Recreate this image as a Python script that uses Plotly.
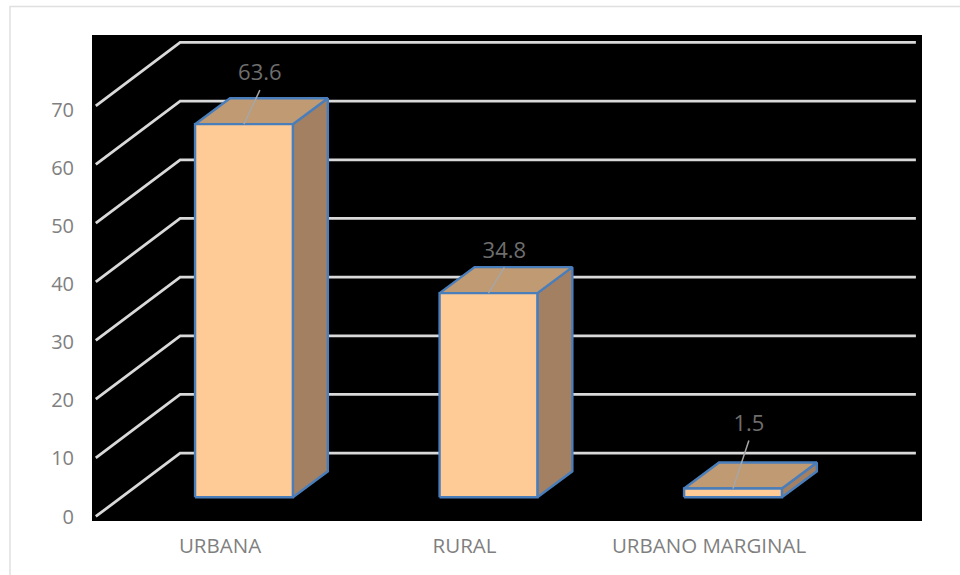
import plotly.graph_objects as go

categories = ["URBANA", "RURAL", "URBANO MARGINAL"]
values = [63.6, 34.8, 1.5]
label_texts = ["63.6", "34.8", "1.5"]
leader_rise = [5.8, 4.4, 8.2]
y_ticks = [0, 10, 20, 30, 40, 50, 60, 70]

WALL_DX, WALL_DY = 0.345, 10.8
BAR_SHIFT, BAR_HALF = 0.098, 0.2
BAR_DX, BAR_DY = 0.143, 4.43
FLOOR = 3.27
LEADER_DX = 0.065
GRID = "#d9d9d9"
EDGE = "#4a7ebb"
TEXT = "#7f7f7f"
CLEAR = "rgba(0,0,0,0)"
FONT = "Open Sans"

fig = go.Figure()
XL = -0.5235 + 0.0155
XR = 2.846
for t in y_ticks:
    fig.add_trace(go.Scatter(x=[XL, XL + WALL_DX, XR], y=[t, t + WALL_DY, t + WALL_DY],
                             mode="lines", line=dict(color=GRID, width=2.8),
                             hoverinfo="skip", showlegend=False))


def face(xs, ys, fill):
    fig.add_trace(go.Scatter(x=xs, y=ys, mode="lines", fill="toself", fillcolor=fill,
                             line=dict(color=EDGE, width=2.4), hoverinfo="skip", showlegend=False))


for i, v in enumerate(values):
    l, r = i + BAR_SHIFT - BAR_HALF, i + BAR_SHIFT + BAR_HALF
    b, t = FLOOR, FLOOR + v
    face([r, r + BAR_DX, r + BAR_DX, r, r], [b, b + BAR_DY, t + BAR_DY, t, b], "#a38061")
    face([l, r, r + BAR_DX, l + BAR_DX, l], [t, t, t + BAR_DY, t + BAR_DY, t], "#bf9a73")
    face([l, r, r, l, l], [b, b, t, t, b], "#fecb96")
    cx = i + BAR_SHIFT
    fig.add_trace(go.Scatter(x=[cx, cx + LEADER_DX], y=[t, t + leader_rise[i]], mode="lines",
                             line=dict(color="#a6a6a6", width=1.5), hoverinfo="skip", showlegend=False))
    fig.add_trace(go.Scatter(x=[cx + LEADER_DX], y=[t + leader_rise[i] + 2.6], mode="text",
                             text=[label_texts[i]], textposition="middle center",
                             textfont=dict(family=FONT, size=22, color="#6e6e6e"),
                             hoverinfo="skip", showlegend=False))

# Invisible trace that carries the tick-label axis (labels run at a slightly tighter pitch).
fig.add_trace(go.Scatter(x=[0] * len(y_ticks), y=y_ticks, yaxis="y2", mode="markers",
                         marker=dict(opacity=0, size=1), hoverinfo="skip", showlegend=False))

fig.update_layout(
    width=960, height=575, autosize=False,
    margin=dict(l=92, r=38, t=35, b=54),
    paper_bgcolor="white", plot_bgcolor="black", showlegend=False,
    font=dict(family=FONT, color=TEXT),
    xaxis=dict(range=[-0.5235, 2.871], tickvals=[0, 1, 2], ticktext=categories,
               showgrid=False, zeroline=False, ticks="outside", ticklen=6, tickcolor=CLEAR,
               showline=False, tickfont=dict(family=FONT, size=20.5, color=TEXT), automargin=False),
    yaxis=dict(range=[-0.77, 82.07], showticklabels=False, showgrid=False, zeroline=False,
               ticks="", showline=False, automargin=False),
    yaxis2=dict(range=[-0.775, 82.92], overlaying="y", side="left", tickvals=y_ticks,
                showgrid=False, zeroline=False, ticks="outside", ticklen=13, tickcolor=CLEAR,
                showline=False, tickfont=dict(family=FONT, size=20, color=TEXT), automargin=False),
    shapes=[dict(type="rect", xref="paper", yref="paper", x0=-0.0988, x1=1.2, y0=-0.3, y1=1.0586,
                 line=dict(color="#e0e0e0", width=1.5), layer="below")],
)
fig.write_html("out.html", config={"displayModeBar": False},
               post_script="document.body.style.margin='0';")
